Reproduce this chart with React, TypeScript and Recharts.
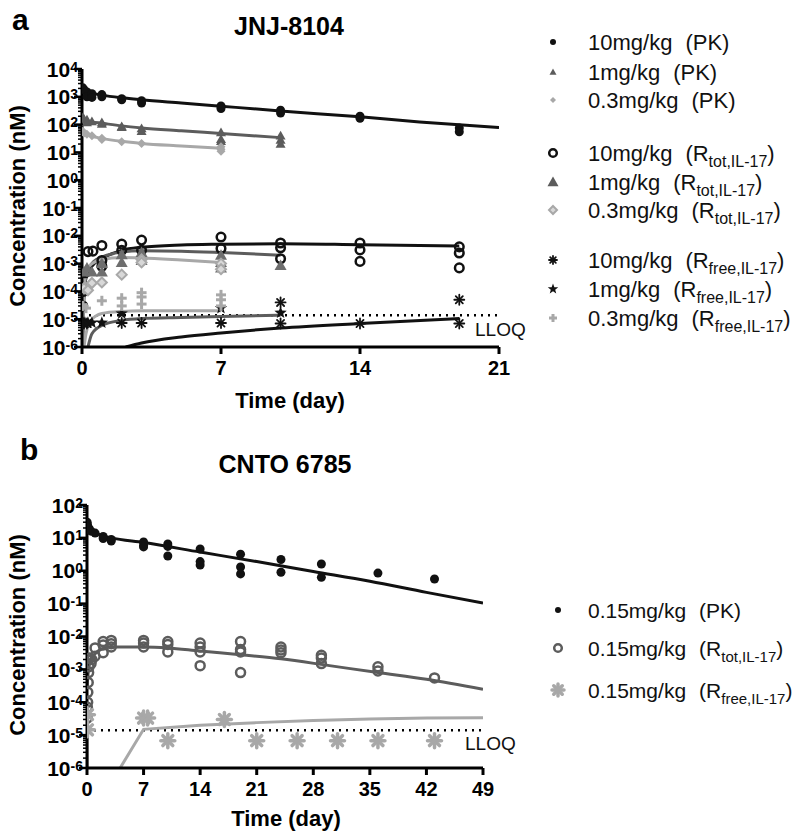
import React from "react";
import { ComposedChart, Line, Scatter, XAxis, YAxis, ReferenceLine } from "recharts";

const FONT = '"Liberation Sans", Arial, Helvetica, sans-serif';
const BLACK = "#111";
const DARK = "#5c5c5c";
const LIGHT = "#a8a8a8";

type Pt = { t: number; v: number | null };
const pts = (rows: (number | null)[][]): Pt[] => rows.map(([t, v]) => ({ t: t as number, v }));

// ---------- panel a : JNJ-8104 ----------
const A_DAYS = [0, 7, 14, 21];
const A_DECADES = [-6, -5, -4, -3, -2, -1, 0, 1, 2, 3, 4];
const LLOQ = 1.4e-5;

const A_PK10 = pts([[0.04, 2100], [0.1, 1800], [0.25, 1500], [0.25, 1000], [0.5, 1300], [0.5, 950], [1, 1200], [1, 1000], [2, 850], [2, 780], [3, 720], [3, 600], [7, 470], [7, 380], [10, 330], [10, 260], [14, 200], [14, 170], [19, 75], [19, 55]]);
const A_PK10_FIT = pts([[0, 2000], [0.1, 1800], [0.25, 1550], [0.5, 1350], [1, 1150], [2, 920], [3, 780], [5, 600], [7, 460], [10, 310], [14, 190], [17, 125], [21, 78]]);
const A_PK1 = pts([[0.04, 180], [0.1, 160], [0.25, 150], [0.25, 120], [0.5, 130], [1, 120], [1, 105], [2, 85], [2, 80], [3, 72], [3, 58], [7, 52], [7, 30], [7, 25], [10, 40], [10, 28], [10, 20]]);
const A_PK1_FIT = pts([[0, 170], [0.25, 140], [0.5, 125], [1, 112], [2, 90], [3, 76], [5, 60], [7, 48], [10, 34]]);
const A_PK03 = pts([[0.04, 58], [0.1, 50], [0.25, 45], [0.5, 40], [1, 32], [1, 29], [2, 24], [3, 21], [7, 16], [7, 13], [7, 11]]);
const A_PK03_FIT = pts([[0, 55], [0.25, 45], [0.5, 38], [1, 32], [2, 25], [3, 21], [5, 17], [7, 14]]);

const A_TOT10 = pts([[0.04, 3e-5], [0.08, 1e-4], [0.15, 4.7e-4], [0.3, 2.7e-3], [0.55, 2.8e-3], [1, 4.5e-3], [1, 1.3e-3], [1, 8e-4], [2, 5e-3], [2, 3e-3], [3, 7e-3], [3, 3e-3], [7, 9e-3], [7, 3.5e-3], [10, 5.5e-3], [10, 3.7e-3], [10, 1.5e-3], [14, 5.5e-3], [14, 3.1e-3], [14, 1.2e-3], [19, 4e-3], [19, 2.4e-3], [19, 7e-4]]);
const A_TOT10_FIT = pts([[0.03, 1e-6], [0.06, 1e-5], [0.1, 8e-5], [0.2, 3e-4], [0.5, 8e-4], [1, 1.5e-3], [2, 3e-3], [3, 3.9e-3], [5, 4.7e-3], [7, 5e-3], [10, 5.2e-3], [14, 4.8e-3], [19, 4.3e-3]]);
const A_TOT1 = pts([[0.1, 5e-4], [0.25, 7e-4], [0.5, 5e-4], [1, 1e-3], [1, 5e-4], [2, 2.1e-3], [2, 1.1e-3], [3, 2.5e-3], [3, 1.3e-3], [7, 2e-3], [7, 1.1e-3], [7, 7e-4], [10, 8.5e-4]]);
const A_TOT1_FIT = pts([[0.03, 1e-6], [0.08, 3e-5], [0.15, 2e-4], [0.3, 6e-4], [0.6, 1.2e-3], [1, 1.7e-3], [2, 2.6e-3], [3, 2.9e-3], [5, 2.8e-3], [7, 2.5e-3], [10, 2e-3]]);
const A_TOT03 = pts([[0.1, 1.3e-4], [0.3, 1.1e-4], [0.5, 2e-4], [1, 2.1e-4], [2, 4e-4], [3, 1.4e-3], [3, 1.1e-3], [7, 1e-3], [7, 6.3e-4]]);
const A_TOT03_FIT = pts([[0.03, 1e-6], [0.08, 5e-5], [0.15, 3e-4], [0.3, 7e-4], [0.6, 1.1e-3], [1, 1.4e-3], [2, 1.65e-3], [3, 1.6e-3], [5, 1.35e-3], [7, 1.1e-3]]);

const A_FREE10 = pts([[0.04, 7e-6], [0.1, 7e-6], [0.25, 7e-6], [2, 7.3e-6], [3, 7.3e-6], [7, 7.3e-6], [10, 4e-5], [10, 7e-6], [14, 7e-6], [19, 5e-5], [19, 7e-6]]);
const A_FREE10_FIT = pts([[2.2, 1e-6], [3, 1.4e-6], [5, 2.3e-6], [7, 3.2e-6], [10, 4.8e-6], [14, 7e-6], [19, 1.05e-5]]);
const A_FREE1 = pts([[0.05, 7.5e-6], [0.15, 7.5e-6], [0.3, 7.5e-6], [0.5, 7.5e-6], [1, 7.5e-6], [2, 1.6e-5], [7, 2.5e-5], [10, 1.7e-5]]);
const A_FREE1_FIT = pts([[0.3, 1e-6], [0.5, 3e-6], [1, 6e-6], [2, 9e-6], [3, 1.05e-5], [5, 1.15e-5], [7, 1.25e-5], [10, 1.4e-5]]);
const A_FREE03 = pts([[0.05, 3e-5], [0.2, 2.5e-5], [1, 4.6e-5], [2, 5.7e-5], [2, 3e-5], [3, 9e-5], [3, 6.3e-5], [3, 3.5e-5], [7, 7.5e-5], [7, 5e-5], [7, 3e-5]]);
const A_FREE03_FIT = pts([[0.1, 1e-6], [0.2, 3e-6], [0.4, 8e-6], [0.7, 1.3e-5], [1, 1.6e-5], [2, 1.9e-5], [3, 2e-5], [7, 2e-5]]);

// ---------- panel b : CNTO 6785 ----------
const B_DAYS = [0, 7, 14, 21, 28, 35, 42, 49];
const B_DECADES = [-6, -5, -4, -3, -2, -1, 0, 1, 2];

const B_PK = pts([[0.02, 30], [0.05, 25], [0.1, 22], [0.2, 20], [0.3, 18], [0.5, 16], [1, 14], [2, 11], [2, 9.5], [3, 9], [3, 8], [7, 7.5], [7, 6], [7, 5.3], [10, 6.5], [10, 5.5], [10, 2.8], [14, 4.6], [14, 1.9], [14, 1.5], [19, 3.2], [19, 1.3], [19, 0.8], [24, 2.2], [24, 0.9], [29, 1.6], [29, 0.63], [36, 0.85], [43, 0.56]]);
const B_PK_FIT = pts([[0, 25], [0.25, 20], [0.5, 17], [1, 14.5], [2, 11.5], [3, 10], [7, 7.2], [14, 3.7], [21, 1.9], [28, 0.95], [35, 0.48], [42, 0.22], [49, 0.105]]);
const B_TOT = pts([[0.02, 3.3e-5], [0.05, 7e-5], [0.08, 1e-4], [0.1, 2e-4], [0.15, 4e-4], [0.2, 8e-4], [0.25, 1.2e-3], [0.35, 2.2e-3], [0.5, 1.5e-3], [0.6, 2e-3], [1, 4.5e-3], [1, 2.5e-3], [2, 7e-3], [2, 5.5e-3], [2, 3.2e-3], [3, 7.6e-3], [3, 6e-3], [3, 4.8e-3], [7, 7.6e-3], [7, 6.3e-3], [7, 4.8e-3], [10, 7e-3], [10, 5.7e-3], [10, 3.4e-3], [14, 6.3e-3], [14, 4.8e-3], [14, 3.4e-3], [14, 1.3e-3], [19, 7e-3], [19, 4e-3], [19, 3.4e-3], [19, 8e-4], [24, 4.8e-3], [24, 3.9e-3], [24, 3.2e-3], [29, 2.7e-3], [29, 2.2e-3], [29, 1.5e-3], [36, 1.2e-3], [36, 9e-4], [43, 5.5e-4]]);
const B_TOT_FIT = pts([[0.02, 3e-4], [0.1, 6e-4], [0.25, 1.2e-3], [0.5, 2e-3], [1, 3e-3], [2, 4.3e-3], [3, 4.8e-3], [7, 4.8e-3], [10, 4.5e-3], [14, 3.6e-3], [19, 2.8e-3], [24, 2.1e-3], [30, 1.3e-3], [36, 8e-4], [42, 5e-4], [49, 2.5e-4]]);
const B_FREE = pts([[0.05, 4.2e-5], [0.05, 1.45e-5], [7, 3.3e-5], [7.5, 3.3e-5], [10, 6.8e-6], [17, 3e-5], [21, 6.8e-6], [26, 6.8e-6], [31, 6.8e-6], [36, 6.8e-6], [43, 6.8e-6]]);
const B_FREE_FIT = pts([[0, 1.4e-5], [0.05, 1e-6], [2, null], [4.1, 1e-6], [7, 1.5e-5], [14, 2e-5], [21, 2.4e-5], [28, 2.8e-5], [35, 3.1e-5], [42, 3.3e-5], [49, 3.4e-5]]);

const logTicks = (decades: number[]) => {
  const out: number[] = [];
  decades.forEach((k, i) => {
    const base = Math.pow(10, k);
    out.push(base);
    if (i < decades.length - 1) for (let m = 2; m <= 9; m++) out.push(m * base);
  });
  return out;
};

const LogTick = (props: any) => {
  const { x, y, payload } = props;
  const lg = Math.log10(payload.value);
  const e = Math.round(lg);
  const major = Math.abs(lg - e) < 1e-6;
  return (
    <g>
      <line x1={x} x2={x - (major ? 8 : 4)} y1={y} y2={y} stroke="#000" strokeWidth={major ? 2.5 : 1.5} />
      {major && (
        <text x={x - 4} y={y + 7.5} textAnchor="end" fontFamily={FONT} fontWeight={700} fontSize={21} fill="#000">
          10<tspan dy={-5} fontSize={14}>{String(e)}</tspan>
        </text>
      )}
    </g>
  );
};

const Marker = ({ kind, cx, cy, s, color }: { kind: string; cx: number; cy: number; s: number; color: string }) => {
  switch (kind) {
    case "dot":
      return <circle cx={cx} cy={cy} r={s} fill={color} />;
    case "ring":
      return <circle cx={cx} cy={cy} r={s} fill="#fff" fillOpacity={0} stroke={color} strokeWidth={2.5} />;
    case "tri":
      return <polygon points={`${cx},${cy - s} ${cx + s},${cy + s * 0.75} ${cx - s},${cy + s * 0.75}`} fill={color} />;
    case "diamond":
      return <polygon points={`${cx},${cy - s} ${cx + s},${cy} ${cx},${cy + s} ${cx - s},${cy}`} fill={color} />;
    case "diamondOpen":
      return <polygon points={`${cx},${cy - s} ${cx + s},${cy} ${cx},${cy + s} ${cx - s},${cy}`} fill="#d8d8d8" stroke={color} strokeWidth={2} />;
    case "asterisk":
    case "blob": {
      const w = kind === "blob" ? 3.5 : 1.8;
      return (
        <g stroke={color} strokeWidth={w} strokeLinecap="round">
          {[0, 45, 90, 135].map((a) => {
            const r = (a * Math.PI) / 180;
            return <line key={a} x1={cx - s * Math.cos(r)} y1={cy - s * Math.sin(r)} x2={cx + s * Math.cos(r)} y2={cy + s * Math.sin(r)} />;
          })}
        </g>
      );
    }
    case "star": {
      const p: string[] = [];
      for (let i = 0; i < 10; i++) {
        const r = i % 2 === 0 ? s : s * 0.42;
        const a = -Math.PI / 2 + (i * Math.PI) / 5;
        p.push(`${cx + r * Math.cos(a)},${cy + r * Math.sin(a)}`);
      }
      return <polygon points={p.join(" ")} fill={color} />;
    }
    case "plus":
      return (
        <g stroke={color} strokeWidth={3}>
          <line x1={cx - s} x2={cx + s} y1={cy} y2={cy} />
          <line x1={cx} x2={cx} y1={cy - s} y2={cy + s} />
        </g>
      );
    default:
      return null;
  }
};

const shape = (kind: string, s: number, color: string) => (p: any) =>
  <Marker kind={kind} cx={p.cx} cy={p.cy} s={s} color={color} />;

const fit = (data: Pt[], color: string, key: string, type: "monotone" | "linear" = "monotone") => (
  <Line key={key} data={data} dataKey="v" type={type} stroke={color} strokeWidth={3} dot={false} isAnimationActive={false} />
);

const axisStyle = { stroke: "#000", strokeWidth: 3 };
const xTick = { fill: "#000", fontSize: 20, fontWeight: 700, fontFamily: FONT };

const LEGEND_A = [
  { y: 42, kind: "dot", s: 3, color: BLACK, dose: "10mg/kg", tag: "PK", sub: "" },
  { y: 72, kind: "tri", s: 3.5, color: DARK, dose: "1mg/kg", tag: "PK", sub: "" },
  { y: 100, kind: "diamond", s: 3, color: LIGHT, dose: "0.3mg/kg", tag: "PK", sub: "" },
  { y: 153, kind: "ring", s: 3.8, color: BLACK, dose: "10mg/kg", tag: "R", sub: "tot,IL-17" },
  { y: 182, kind: "tri", s: 5.5, color: DARK, dose: "1mg/kg", tag: "R", sub: "tot,IL-17" },
  { y: 210, kind: "diamondOpen", s: 4, color: LIGHT, dose: "0.3mg/kg", tag: "R", sub: "tot,IL-17" },
  { y: 260, kind: "asterisk", s: 4, color: BLACK, dose: "10mg/kg", tag: "R", sub: "free,IL-17" },
  { y: 289, kind: "star", s: 5.5, color: BLACK, dose: "1mg/kg", tag: "R", sub: "free,IL-17" },
  { y: 318, kind: "plus", s: 4, color: LIGHT, dose: "0.3mg/kg", tag: "R", sub: "free,IL-17" },
];
const LEGEND_B = [
  { y: 610, kind: "dot", s: 3, color: BLACK, dose: "0.15mg/kg", tag: "PK", sub: "" },
  { y: 648, kind: "ring", s: 3.8, color: DARK, dose: "0.15mg/kg", tag: "R", sub: "tot,IL-17" },
  { y: 690, kind: "blob", s: 6, color: LIGHT, dose: "0.15mg/kg", tag: "R", sub: "free,IL-17" },
];

const LegendRow = ({ row, mx, fs }: { row: any; mx: number; fs: number }) => (
  <g>
    <Marker kind={row.kind} cx={mx} cy={row.y} s={row.s} color={row.color} />
    <text x={588} y={row.y + 8} fontFamily={FONT} fontSize={fs} fill="#111">
      {row.dose}
      <tspan dx={13}>({row.tag}</tspan>
      {row.sub ? <tspan dy={6} fontSize={fs - 6}>{row.sub}</tspan> : null}
      <tspan dy={row.sub ? -6 : 0}>)</tspan>
    </text>
  </g>
);

export default function App() {
  return (
    <div style={{ position: "absolute", left: 0, top: 0, width: 800, height: 831, background: "#fff" }}>
      <div style={{ position: "absolute", left: 0, top: 0 }}>
        <ComposedChart width={800} height={420} margin={{ top: 69, right: 301, bottom: 33, left: 0 }}>
          <XAxis dataKey="t" type="number" domain={[0, 21]} ticks={A_DAYS} allowDataOverflow height={40}
            axisLine={axisStyle} tickLine={axisStyle} tickSize={7} tickMargin={7} tick={xTick} />
          <YAxis dataKey="v" type="number" scale="log" domain={[1e-6, 1e4]} allowDataOverflow width={82}
            ticks={logTicks(A_DECADES)} interval={0} axisLine={axisStyle} tickLine={false} tickSize={0} tickMargin={0} tick={<LogTick />} />
          <ReferenceLine y={LLOQ} stroke="#000" strokeWidth={2.5} strokeDasharray="2 5" />
          {fit(A_PK10_FIT, BLACK, "l1")}
          {fit(A_PK1_FIT, DARK, "l2")}
          {fit(A_PK03_FIT, LIGHT, "l3")}
          {fit(A_TOT10_FIT, BLACK, "l4")}
          {fit(A_TOT1_FIT, DARK, "l5")}
          {fit(A_TOT03_FIT, LIGHT, "l6")}
          {fit(A_FREE10_FIT, BLACK, "l7")}
          {fit(A_FREE1_FIT, DARK, "l8")}
          {fit(A_FREE03_FIT, LIGHT, "l9")}
          <Scatter data={A_PK10} shape={shape("dot", 4.5, BLACK)} isAnimationActive={false} />
          <Scatter data={A_PK1} shape={shape("tri", 5, DARK)} isAnimationActive={false} />
          <Scatter data={A_PK03} shape={shape("diamond", 4.5, LIGHT)} isAnimationActive={false} />
          <Scatter data={A_TOT10} shape={shape("ring", 4.3, BLACK)} isAnimationActive={false} />
          <Scatter data={A_TOT1} shape={shape("tri", 6, "#6e6e6e")} isAnimationActive={false} />
          <Scatter data={A_TOT03} shape={shape("diamondOpen", 5, LIGHT)} isAnimationActive={false} />
          <Scatter data={A_FREE10} shape={shape("asterisk", 5, BLACK)} isAnimationActive={false} />
          <Scatter data={A_FREE1} shape={shape("star", 6.5, BLACK)} isAnimationActive={false} />
          <Scatter data={A_FREE03} shape={shape("plus", 5, LIGHT)} isAnimationActive={false} />
        </ComposedChart>
      </div>
      <div style={{ position: "absolute", left: 0, top: 430 }}>
        <ComposedChart width={800} height={401} margin={{ top: 75, right: 317, bottom: 23, left: 0 }}>
          <XAxis dataKey="t" type="number" domain={[0, 49]} ticks={B_DAYS} allowDataOverflow height={40}
            axisLine={axisStyle} tickLine={axisStyle} tickSize={7} tickMargin={7} tick={xTick} />
          <YAxis dataKey="v" type="number" scale="log" domain={[1e-6, 1e2]} allowDataOverflow width={87}
            ticks={logTicks(B_DECADES)} interval={0} axisLine={axisStyle} tickLine={false} tickSize={0} tickMargin={0} tick={<LogTick />} />
          <ReferenceLine y={LLOQ} stroke="#000" strokeWidth={2.5} strokeDasharray="2 5" />
          {fit(B_PK_FIT, BLACK, "m1")}
          {fit(B_TOT_FIT, DARK, "m2")}
          {fit(B_FREE_FIT, LIGHT, "m3", "linear")}
          <Scatter data={B_PK} shape={shape("dot", 4.5, BLACK)} isAnimationActive={false} />
          <Scatter data={B_TOT} shape={shape("ring", 4.5, DARK)} isAnimationActive={false} />
          <Scatter data={B_FREE} shape={shape("blob", 7, LIGHT)} isAnimationActive={false} />
        </ComposedChart>
      </div>
      <svg width={800} height={831} style={{ position: "absolute", left: 0, top: 0, pointerEvents: "none" }}>
        <g fontFamily={FONT} fontWeight={700} fill="#000">
          <text x={12} y={30} fontSize={30}>a</text>
          <text x={289} y={35} fontSize={25} textAnchor="middle">JNJ-8104</text>
          <text x={290} y={408} fontSize={22} textAnchor="middle">Time (day)</text>
          <text transform="translate(25,206) rotate(-90)" fontSize={22} textAnchor="middle">Concentration (nM)</text>
          <text x={20} y={460} fontSize={30}>b</text>
          <text x={285} y={473} fontSize={25} textAnchor="middle">CNTO 6785</text>
          <text x={286} y={826} fontSize={22} textAnchor="middle">Time (day)</text>
          <text transform="translate(25,635) rotate(-90)" fontSize={22} textAnchor="middle">Concentration (nM)</text>
        </g>
        <g fontFamily={FONT} fill="#111" fontSize={19}>
          <text x={475} y={336}>LLOQ</text>
          <text x={465} y={750}>LLOQ</text>
        </g>
        {LEGEND_A.map((r, i) => <LegendRow key={i} row={r} mx={553} fs={22} />)}
        {LEGEND_B.map((r, i) => <LegendRow key={i} row={r} mx={558} fs={21} />)}
      </svg>
    </div>
  );
}
